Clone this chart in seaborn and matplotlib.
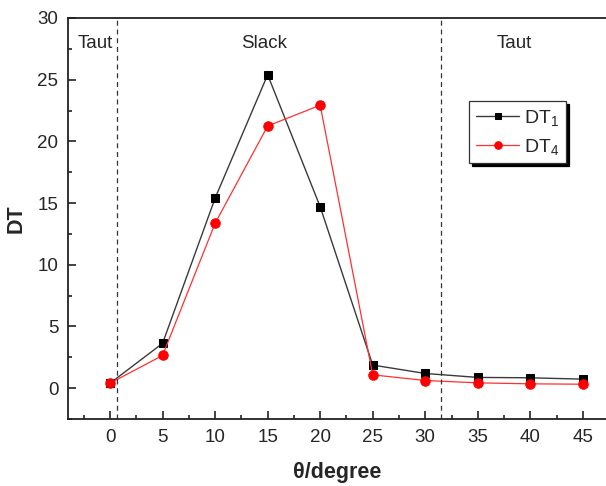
import numpy as np
import pandas as pd
import matplotlib
matplotlib.use("Agg")
import matplotlib.pyplot as plt
import seaborn as sns
from matplotlib.ticker import MultipleLocator

# data
theta = [0, 5, 10, 15, 20, 25, 30, 35, 40, 45]
dt1 = [0.4, 3.63, 15.4, 25.4, 14.7, 1.87, 1.19, 0.87, 0.84, 0.73]
dt4 = [0.4, 2.65, 13.36, 21.25, 22.93, 1.08, 0.62, 0.43, 0.35, 0.32]
region_labels = ["Taut", "Slack", "Taut"]
region_x = [-1.45, 14.65, 38.5]
boundaries = [0.71, 31.5]

sns.set_style("ticks")
plt.rcParams["font.family"] = ["Liberation Sans", "DejaVu Sans"]
plt.rcParams["mathtext.default"] = "regular"
plt.rcParams["xtick.direction"] = "in"
plt.rcParams["ytick.direction"] = "in"

df = pd.DataFrame({"theta": theta, "DT1": dt1, "DT4": dt4})

fig = plt.figure(figsize=(6.06, 4.86), dpi=100)
ax = fig.add_axes([68 / 606, 67 / 486, 538 / 606, 401 / 486])

sns.lineplot(data=df, x="theta", y="DT1", ax=ax, color="#3a3a3a", linewidth=1.0,
             marker="s", markersize=6.2, markerfacecolor="black", markeredgecolor="black",
             label="DT$_1$")
sns.lineplot(data=df, x="theta", y="DT4", ax=ax, color="#ff3030", linewidth=0.9,
             marker="o", markersize=6.8, markerfacecolor="red", markeredgecolor="red",
             label="DT$_4$")

for b in boundaries:
    ax.axvline(b, color="#333333", linestyle=(0, (4, 3)), linewidth=0.9)

for lab, xx in zip(region_labels, region_x):
    ax.text(xx, 27.9, lab, ha="center", va="center", fontsize=13.5)

ax.set_xlim(-4, 47.2)
ax.set_ylim(-2.5, 30)
ax.xaxis.set_major_locator(MultipleLocator(5))
ax.xaxis.set_minor_locator(MultipleLocator(2.5))
ax.yaxis.set_major_locator(MultipleLocator(5))
ax.yaxis.set_minor_locator(MultipleLocator(2.5))
ax.set_xticks(theta)
ax.tick_params(which="major", length=5.5, width=1.2, labelsize=13.5, color="#222222", pad=7)
ax.tick_params(which="minor", length=3.2, width=1.2, color="#222222")

for s in ["left", "bottom", "top"]:
    ax.spines[s].set_linewidth(1.3)
    ax.spines[s].set_color("#222222")
ax.spines["right"].set_visible(False)

ax.set_xlabel("θ/degree", fontsize=15.5, fontweight="bold", labelpad=12)
ax.set_ylabel("DT", fontsize=15.5, fontweight="bold", labelpad=8)

leg = ax.legend(loc="upper left", bbox_to_anchor=(0.746, 0.793), borderaxespad=0,
                fontsize=14, frameon=True, fancybox=False, edgecolor="#333333",
                framealpha=1, handlelength=2.2, markerscale=0.8,
                shadow={"color": "black", "alpha": 1},
                handletextpad=0.25, labelspacing=0.45, borderpad=0.35)
leg.get_frame().set_linewidth(0.9)

fig.savefig("out.png", dpi=100)
